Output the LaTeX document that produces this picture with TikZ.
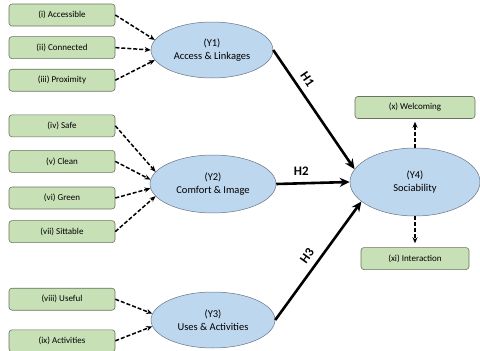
\documentclass[tikz,border=0pt]{standalone}
\usepackage{fontspec}
\setmainfont{Carlito}
\usepackage{xcolor}
\usetikzlibrary{shapes.geometric, arrows.meta, positioning}
\definecolor{boxfill}{RGB}{200,224,182}
\definecolor{boxline}{RGB}{105,115,95}
\definecolor{ellfill}{RGB}{189,215,238}
\definecolor{ellline}{RGB}{105,115,135}

\begin{document}
\begin{tikzpicture}[
    x=1pt, y=1pt,
    item/.style={draw=boxline, fill=boxfill, rounded corners=3pt, minimum width=106pt, minimum height=22pt, font=\fontsize{9}{10}\selectfont, line width=0.6pt},
    construct/.style={draw=ellline, fill=ellfill, ellipse, minimum width=122pt, minimum height=56pt, align=center, font=\fontsize{10.5}{13}\selectfont, line width=0.5pt, inner sep=0pt},
    indic/.style={-{Stealth[length=6pt,width=5pt]}, line width=1.5pt, dash pattern=on 4pt off 2pt},
    hyp/.style={-{Stealth[length=10pt,width=9pt]}, line width=2.6pt},
    hlabel/.style={font=\fontsize{13}{13}\selectfont\bfseries, above=3pt},
  ]
  \useasboundingbox (0,0) rectangle (480,-351);
  \node[construct] (access) at (212,-50) {(Y1)\\Access \& Linkages};
  \node[construct, minimum width=126pt, minimum height=58pt] (comfort) at (213,-184) {(Y2)\\Comfort \& Image};
  \node[construct, minimum width=124pt] (uses) at (213,-320) {(Y3)\\Uses \& Activities};
  \node[construct, minimum width=130pt, minimum height=68pt] (social) at (415,-182) {(Y4)\\Sociability};
  \node[item] (acc) at (62,-15) {(i) Accessible};
  \node[item, below=10pt of acc] (conn) {(ii) Connected};
  \node[item, below=10pt of conn] (prox) {(iii) Proximity};
  \node[item, below=23pt of prox] (safe) {(iv) Safe};
  \node[item, below=13pt of safe] (clean) {(v) Clean};
  \node[item, below=14pt of clean] (green) {(vi) Green};
  \node[item, below=11pt of green] (sit) {(vii) Sittable};
  \node[item, below=45pt of sit] (useful) {(viii) Useful};
  \node[item, below=19pt of useful] (activ) {(ix) Activities};
  \node[item, minimum width=120pt, above=29pt of social] (welc) {(x) Welcoming};
  \node[item, minimum width=108pt, below=31pt of social] (inter) {(xi) Interaction};
  \draw[indic] (acc.east) -- (access.170);
  \draw[indic] (conn.east) -- (access.180);
  \draw[indic] (prox.east) -- (access.190);
  \draw[indic] (safe.east) -- (comfort.168);
  \draw[indic] (clean.east) -- (comfort.176);
  \draw[indic] (green.east) -- (comfort.184);
  \draw[indic] (sit.east) -- (comfort.192);
  \draw[indic] (useful.east) -- (uses.174);
  \draw[indic] (activ.east) -- (uses.186);
  \draw[indic, shorten >=3pt] (social.north) -- (welc.south);
  \draw[indic, shorten >=4pt] (social.south) -- (inter.north);
  \draw[hyp] (access.east) -- node[sloped, hlabel, pos=0.3] {H1} (social.168);
  \draw[hyp] (comfort.east) -- node[hlabel, pos=0.34] {H2} (social.west);
  \draw[hyp] (uses.east) -- node[sloped, hlabel, pos=0.48] {H3} (social.200);
\end{tikzpicture}
\end{document}
